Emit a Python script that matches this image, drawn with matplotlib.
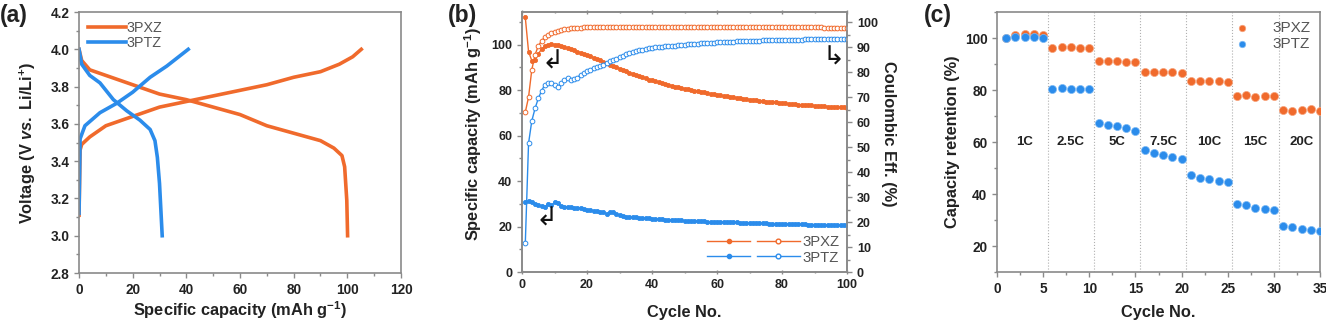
import numpy as np
import matplotlib
matplotlib.use("Agg")
import matplotlib.pyplot as plt
from matplotlib.lines import Line2D
from matplotlib.legend_handler import HandlerTuple
from matplotlib.ticker import MultipleLocator

plt.rcParams["font.family"] = ["Liberation Sans", "DejaVu Sans"]
plt.rcParams["mathtext.fontset"] = "custom"
plt.rcParams["mathtext.rm"] = "Liberation Sans:bold"
plt.rcParams["mathtext.bf"] = "Liberation Sans:bold"
plt.rcParams["mathtext.it"] = "Liberation Sans:italic:bold"

ORANGE = "#F06A2C"
BLUE = "#2B8CEB"
SPINE = "#8a8a8a"
TXT = "#222222"

# ---------------------------------------------------------------
# (a) charge / discharge profiles
# ---------------------------------------------------------------
pxz_chg_cap = [0, 0.4, 1, 4, 10, 20, 30, 40, 50, 60, 70, 80, 90, 97, 102, 105.2]
pxz_chg_v = [3.11, 3.46, 3.49, 3.53, 3.59, 3.64, 3.69, 3.72, 3.75, 3.78, 3.81, 3.85, 3.88, 3.92, 3.96, 4.00]
pxz_dis_cap = [0, 1, 4, 10, 20, 30, 40, 50, 60, 70, 80, 90, 95, 98, 99, 99.8, 100.1]
pxz_dis_v = [4.00, 3.94, 3.89, 3.86, 3.81, 3.76, 3.73, 3.69, 3.65, 3.59, 3.55, 3.51, 3.47, 3.43, 3.37, 3.19, 3.00]
ptz_chg_cap = [0, 0.4, 2.2, 7.8, 14, 20, 26.5, 32.7, 40.7]
ptz_chg_v = [3.12, 3.52, 3.59, 3.66, 3.71, 3.77, 3.85, 3.91, 4.00]
ptz_dis_cap = [0, 1, 4, 7.8, 12.8, 17.8, 22.7, 26.5, 28.3, 29.2, 30, 31]
ptz_dis_v = [4.00, 3.92, 3.86, 3.82, 3.73, 3.67, 3.62, 3.57, 3.51, 3.42, 3.28, 3.00]

# ---------------------------------------------------------------
# (b) cycling, 100 cycles
# ---------------------------------------------------------------
cycles_b = list(range(1, 101))
pxz_cap = [112, 97, 93, 93.5, 96, 98, 99.3, 100, 100.2, 100.1,
           99.8, 99.4, 99, 98.5, 98, 97.5, 97, 96.5, 96, 95.5,
           94.9, 94.3, 93.7, 93.1, 92.5, 91.9, 91.3, 90.7, 90.1, 89.5,
           88.9, 88.3, 87.7, 87.2, 86.7, 86.2, 85.7, 85.2, 84.7, 84.3,
           83.9, 83.5, 83.1, 82.7, 82.3, 82.0, 81.6, 81.3, 81.0, 80.7,
           80.4, 80.1, 79.8, 79.5, 79.2, 79.0, 78.7, 78.4, 78.2, 78.0,
           77.7, 77.5, 77.3, 77.1, 76.9, 76.7, 76.5, 76.3, 76.1, 75.9,
           75.7, 75.5, 75.4, 75.2, 75.0, 74.9, 74.7, 74.6, 74.4, 74.3,
           74.2, 74.0, 73.9, 73.8, 73.7, 73.6, 73.5, 73.4, 73.3, 73.2,
           73.1, 73.0, 72.9, 72.8, 72.7, 72.6, 72.5, 72.5, 72.4, 72.3]
pxz_ce = [64, 70, 81, 87, 90.5, 92.5, 94, 95, 95.7, 96.2,
          96.6, 96.9, 97.1, 97.3, 97.5, 97.6, 97.7, 97.8, 97.9, 98.0,
          98.0, 98.1, 98.1, 98.1, 98.2, 98.2, 98.2, 98.2, 98.2, 98.2,
          98.2, 98.2, 98.2, 98.2, 98.2, 98.2, 98.2, 98.2, 98.2, 98.2,
          98.2, 98.2, 98.2, 98.2, 98.2, 98.2, 98.2, 98.2, 98.2, 98.2,
          98.2, 98.2, 98.2, 98.2, 98.2, 98.1, 98.1, 98.1, 98.1, 98.1,
          98.1, 98.1, 98.1, 98.1, 98.1, 98.1, 98.1, 98.1, 98.1, 98.1,
          98.0, 98.0, 98.0, 98.0, 98.0, 98.0, 98.0, 98.0, 98.0, 98.0,
          98.0, 98.0, 98.0, 97.9, 97.9, 97.9, 97.9, 97.9, 97.9, 97.9,
          97.9, 97.9, 97.8, 97.8, 97.8, 97.8, 97.8, 97.8, 97.8, 97.8]
ptz_cap = [31, 31.2, 30.6, 30, 29.5, 29, 28.5, 30, 29.3, 30.6,
           30.2, 29, 28.8, 28.6, 28.4, 28.2, 28.3, 28, 27.7, 27.4,
           27.2, 27, 26.8, 26.6, 26.4, 25.6, 26.2, 26.4, 25.5, 25,
           24.6, 24.4, 24.2, 24.1, 24.0, 23.9, 23.8, 23.7, 23.6, 23.5,
           23.4, 23.3, 23.2, 23.1, 23.0, 22.9, 22.8, 22.8, 22.7, 22.6,
           22.5, 22.5, 22.4, 22.4, 22.3, 22.3, 22.2, 22.1, 22.1, 22.0,
           22.0, 21.9, 21.9, 21.8, 21.8, 21.8, 21.7, 21.7, 21.6, 21.6,
           21.5, 21.5, 21.5, 21.4, 21.4, 21.3, 21.3, 21.3, 21.2, 21.2,
           21.2, 21.1, 21.1, 21.1, 21.0, 21.0, 21.0, 20.9, 20.9, 20.9,
           20.9, 20.8, 20.8, 20.8, 20.7, 20.7, 20.7, 20.6, 20.6, 20.6]
ptz_ce = [11.5, 51.5, 60.5, 65.5, 69.5, 72.5, 75, 75.8, 75.5, 75,
          74.2, 75.5, 76.8, 77.5, 77, 77.3, 77.8, 79, 79.8, 80.3,
          81, 81.6, 82, 82.5, 83, 83.6, 84.5, 84.8, 85.3, 86,
          86.6, 87.1, 87.6, 88, 88.4, 88.7, 89, 89.3, 89.5, 89.7,
          89.9, 90.0, 90.2, 90.3, 90.4, 90.5, 90.6, 90.7, 90.8, 91.0,
          91.1, 91.2, 91.3, 91.4, 91.5, 91.6, 91.7, 91.7, 91.8, 91.9,
          91.9, 92.0, 92.1, 92.1, 92.2, 92.3, 92.3, 92.4, 92.4, 92.5,
          92.5, 92.6, 92.6, 92.7, 92.7, 92.7, 92.8, 92.8, 92.8, 92.9,
          92.9, 92.9, 93.0, 93.0, 93.0, 93.0, 93.1, 93.1, 93.1, 93.1,
          93.1, 93.2, 93.2, 93.2, 93.2, 93.2, 93.2, 93.2, 93.2, 93.2]

# ---------------------------------------------------------------
# (c) rate capability
# ---------------------------------------------------------------
cycles_c = list(range(1, 36))
pxz_ret = [100, 101.3, 101.6, 101.6, 101.3,
           96.3, 96.5, 96.4, 96.2, 96.0,
           91.0, 91.1, 91.0, 90.9, 90.9,
           87.0, 87.0, 86.8, 87.0, 86.7,
           83.4, 83.6, 83.3, 83.5, 83.1,
           77.8, 77.9, 77.4, 77.7, 77.7,
           72.2, 72.1, 72.5, 72.6, 72.0]
ptz_ret = [100, 100.5, 100.3, 100.5, 100.1,
           80.3, 80.6, 80.3, 80.3, 80.3,
           67.4, 66.5, 66.0, 65.2, 64.4,
           56.8, 55.9, 55.1, 54.2, 53.5,
           47.3, 46.3, 45.7, 45.1, 44.5,
           36.2, 35.6, 34.8, 34.2, 33.7,
           27.7, 27.2, 26.6, 26.2, 25.6]
rate_labels = ["1C", "2.5C", "5C", "7.5C", "10C", "15C", "20C"]
rate_label_x = [3, 8, 13, 18, 23, 28, 33]
rate_bounds = [5.5, 10.5, 15.5, 20.5, 25.5, 30.5]

LABEL_KW = dict(fontsize=11.8, fontweight="bold", color=TXT)


def style_axes(ax, size):
    for s in ax.spines.values():
        s.set_color(SPINE)
        s.set_linewidth(1.2)
    ax.tick_params(which="both", colors=SPINE, labelcolor=TXT, labelsize=size, width=1)
    ax.tick_params(which="major", length=3.5)
    ax.tick_params(which="minor", length=2)
    for lab in ax.get_xticklabels() + ax.get_yticklabels():
        lab.set_fontweight("bold")


fig = plt.figure(figsize=(13.26, 3.21), dpi=100)

# ---------------- (a) ----------------
ax1 = fig.add_axes([0.0596, 0.1495, 0.2428, 0.813])
ax1.plot(pxz_chg_cap, pxz_chg_v, color=ORANGE, lw=2.6, label="3PXZ")
ax1.plot(pxz_dis_cap, pxz_dis_v, color=ORANGE, lw=2.6)
ax1.plot(ptz_chg_cap, ptz_chg_v, color=BLUE, lw=2.6, label="3PTZ")
ax1.plot(ptz_dis_cap, ptz_dis_v, color=BLUE, lw=2.6)
ax1.set_xlim(0, 120)
ax1.set_ylim(2.8, 4.2)
ax1.xaxis.set_major_locator(MultipleLocator(20))
ax1.xaxis.set_minor_locator(MultipleLocator(10))
ax1.yaxis.set_major_locator(MultipleLocator(0.2))
ax1.yaxis.set_minor_locator(MultipleLocator(0.1))
style_axes(ax1, 9.8)
ax1.set_ylabel(r"Voltage (V $\mathit{vs.}$ Li/Li$^{+}$)", **LABEL_KW)
ax1.yaxis.set_label_coords(-0.128, 0.5)
ax1.set_xlabel(r"Specific capacity (mAh g$^{-1}$)", **LABEL_KW)
ax1.xaxis.set_label_coords(0.5, -0.1)
ax1.legend(loc="upper left", frameon=False, fontsize=10.3, handlelength=2.6,
           labelspacing=0.05, borderaxespad=0.25, handletextpad=0.1,
           labelcolor="#555555")
fig.text(0.0, 0.952, "(a)", fontsize=16.5, fontweight="bold", color=TXT, va="center")

# ---------------- (b) ----------------
ax2 = fig.add_axes([0.3937, 0.1526, 0.2451, 0.810])
ax2r = ax2.twinx()
ax2.plot(cycles_b, pxz_cap, color=ORANGE, lw=1, marker="o", ms=3, mfc=ORANGE, mew=0.6, zorder=3)
ax2.plot(cycles_b, ptz_cap, color=BLUE, lw=1, marker="o", ms=3, mfc=BLUE, mew=0.6, zorder=3)
ax2r.plot(cycles_b, pxz_ce, color=ORANGE, lw=1, marker="o", ms=3.4, mfc="white", mew=0.7)
ax2r.plot(cycles_b, ptz_ce, color=BLUE, lw=1, marker="o", ms=3.4, mfc="white", mew=0.7)
ax2.set_xlim(0, 100)
ax2.set_ylim(0, 114.4)
ax2r.set_ylim(0, 104.1)
ax2.xaxis.set_major_locator(MultipleLocator(20))
ax2.xaxis.set_minor_locator(MultipleLocator(10))
ax2.yaxis.set_major_locator(MultipleLocator(20))
ax2.yaxis.set_minor_locator(MultipleLocator(10))
ax2r.yaxis.set_major_locator(MultipleLocator(10))
ax2r.yaxis.set_minor_locator(MultipleLocator(5))
ax2.tick_params(which="both", top=True, labeltop=False)
ax2.tick_params(axis="x", which="both", direction="inout")
style_axes(ax2, 9)
style_axes(ax2r, 9)
ax2.set_ylabel(r"Specific capacity (mAh g$^{-1}$)", **LABEL_KW)
ax2.yaxis.set_label_coords(-0.118, 0.53)
ax2r.set_ylabel("Coulombic Eff. (%)", rotation=270, **LABEL_KW)
ax2r.yaxis.set_label_coords(1.152, 0.53)
ax2.set_xlabel("Cycle No.", **LABEL_KW)
ax2.xaxis.set_label_coords(0.5, -0.128)
arrow_kw = dict(fontsize=19, family="DejaVu Sans", color="#111111", ha="center", va="center")
ax2.text(9.5, 92.5, "\u21b2", **arrow_kw)
ax2.text(7.5, 23.5, "\u21b2", **arrow_kw)
ax2r.text(95.7, 85.7, "\u21b3", **arrow_kw)
h_pxz = (Line2D([], [], color=ORANGE, lw=1, marker="o", ms=3, mfc=ORANGE),
         Line2D([], [], color=ORANGE, lw=1, marker="o", ms=3.4, mfc="white"))
h_ptz = (Line2D([], [], color=BLUE, lw=1, marker="o", ms=3, mfc=BLUE),
         Line2D([], [], color=BLUE, lw=1, marker="o", ms=3.4, mfc="white"))
ax2.legend([h_pxz, h_ptz], ["3PXZ", "3PTZ"], loc="lower right", frameon=False,
           fontsize=10.7, handlelength=6.2, labelspacing=0.1, handletextpad=0.2,
           borderaxespad=0.1, labelcolor="#555555",
           handler_map={tuple: HandlerTuple(ndivide=None, pad=0.5)})
fig.text(0.338, 0.952, "(b)", fontsize=16.5, fontweight="bold", color=TXT, va="center")

# ---------------- (c) ----------------
ax3 = fig.add_axes([0.7519, 0.1526, 0.2436, 0.810])
for xb in rate_bounds:
    ax3.axvline(xb, color="#b0b0b0", lw=0.8, ls=":", zorder=1)
ax3.scatter(cycles_c, pxz_ret, s=34, color=ORANGE, edgecolors="#f7a37c",
            linewidths=0.5, zorder=3, label="3PXZ")
ax3.scatter(cycles_c, ptz_ret, s=34, color=BLUE, edgecolors="#7dbaf5",
            linewidths=0.5, zorder=4, label="3PTZ")
for lab, xl in zip(rate_labels, rate_label_x):
    ax3.text(xl, 60, lab, ha="center", va="center", fontsize=9.5,
             fontweight="bold", color=TXT)
ax3.set_xlim(0, 35)
ax3.set_ylim(10, 110)
ax3.xaxis.set_major_locator(MultipleLocator(5))
ax3.xaxis.set_minor_locator(MultipleLocator(2.5))
ax3.yaxis.set_major_locator(MultipleLocator(20))
ax3.yaxis.set_minor_locator(MultipleLocator(10))
style_axes(ax3, 9.8)
ax3.set_ylabel("Capacity retention (%)", **LABEL_KW)
ax3.yaxis.set_label_coords(-0.115, 0.5)
ax3.set_xlabel("Cycle No.", **LABEL_KW)
ax3.xaxis.set_label_coords(0.5, -0.128)
ax3.legend(loc="upper right", frameon=False, fontsize=11, handletextpad=1.0,
           labelspacing=0.15, borderaxespad=0.2, labelcolor="#555555",
           markerscale=0.8)
fig.text(0.697, 0.952, "(c)", fontsize=16.5, fontweight="bold", color=TXT, va="center")

fig.savefig("out.png", dpi=100)
